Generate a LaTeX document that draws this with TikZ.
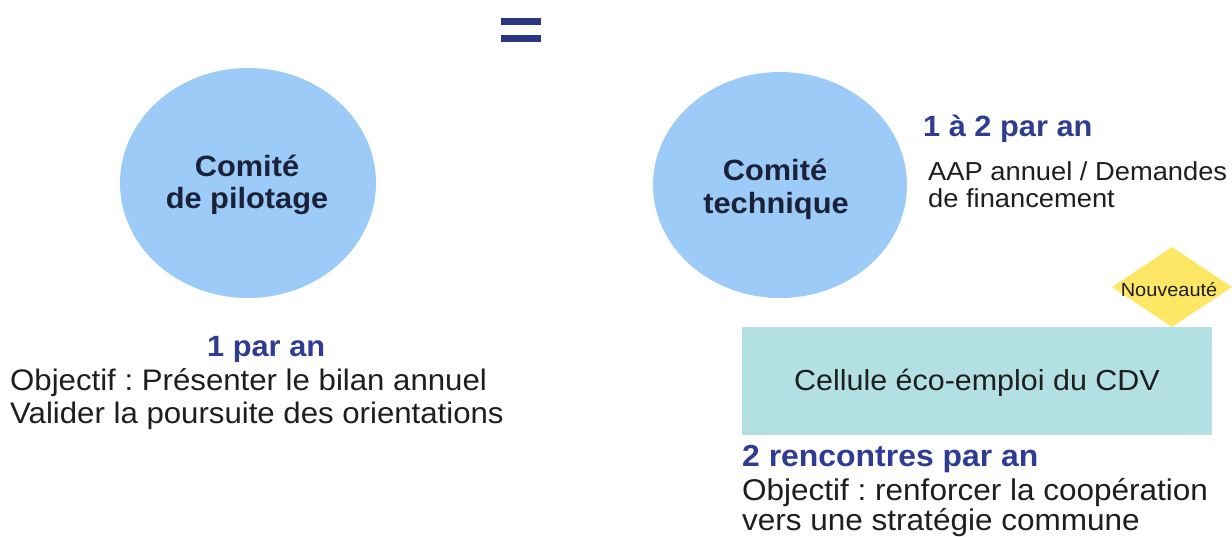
\documentclass[tikz,border=0pt]{standalone}
\usepackage{fontspec}
\setmainfont{Liberation Sans}[FakeStretch=1.05]
\usetikzlibrary{shapes.geometric}
\definecolor{circfill}{HTML}{9BCBF6}
\definecolor{navy}{HTML}{1B2138}
\definecolor{headblue}{HTML}{2E3C94}
\definecolor{eqblue}{HTML}{2B3581}
\definecolor{cellfill}{HTML}{B3E0E3}
\definecolor{newfill}{HTML}{FFE766}
\definecolor{bodytext}{HTML}{1E1E1E}
\frenchspacing
\begin{document}
\begin{tikzpicture}[x=1pt,y=-1pt,
  circ/.style={ellipse, fill=circfill, inner sep=0pt, minimum width=256pt, minimum height=230pt},
  circtext/.style={anchor=base, inner sep=0pt, text=navy, font=\fontsize{29.3}{31}\bfseries\selectfont},
  head/.style={anchor=base west, inner sep=0pt, text=headblue, font=\fontsize{29.3}{31}\bfseries\selectfont},
  body/.style={anchor=base west, inner sep=0pt, text=bodytext, font=\fontsize{29.7}{32}\selectfont},
  small/.style={anchor=base west, inner sep=0pt, text=bodytext, font=\fontsize{26}{28}\selectfont}]
\useasboundingbox[fill=white] (0,0) rectangle (1232,537);
% equals sign
\fill[eqblue] (501,18) rectangle (541,25);
\fill[eqblue] (501,35) rectangle (541,42);
% left circle
\node[circ] (cp) at (248,183) {};
\node[circtext] (cp1) at (247,177) {Comité};
\node[circtext] (cp2) at (247,209) {de pilotage};
% right circle
\node[circ, minimum width=254pt, minimum height=226pt] (ct) at (780,185) {};
\node[circtext] (ct1) at (775,181) {Comité};
\node[circtext] (ct2) at (776,214) {technique};
% right top texts
\node[head] (h2) at (923,137) {1 à 2 par an};
\node[small] (aap1) at (928,181) {AAP annuel / Demandes};
\node[small] (aap2) at (928,208) {de financement};
% left bottom texts
\node[head] (h1) at (207,357) {1 par an};
\node[body] (o1) at (10,390) {Objectif : Présenter le bilan annuel};
\node[body] (o2) at (10,423) {Valider la poursuite des orientations};
% cell
\node[rectangle, fill=cellfill, inner sep=0pt, minimum width=470pt, minimum height=108pt] (cell) at (977,381) {};
\node[anchor=base, inner sep=0pt, text=bodytext, font=\fontsize{29}{31}\selectfont] (cellt) at (977,391) {Cellule éco-emploi du CDV};
% nouveaute diamond
\node[diamond, fill=newfill, inner sep=0pt, minimum width=120pt, minimum height=80pt] (nv) at (1172,287) {};
\node[anchor=base, inner sep=0pt, text=bodytext, font=\fontsize{19}{21}\selectfont] (nvt) at (1169,297) {Nouveauté};
% bottom right texts
\node[head, font=\fontsize{30.4}{32}\bfseries\selectfont] (h3) at (742,466) {2 rencontres par an};
\node[body, font=\fontsize{30}{32}\selectfont] (b1) at (742,500) {Objectif : renforcer la coopération};
\node[body, font=\fontsize{30}{32}\selectfont] (b2) at (742,530) {vers une stratégie commune};
\end{tikzpicture}
\end{document}
